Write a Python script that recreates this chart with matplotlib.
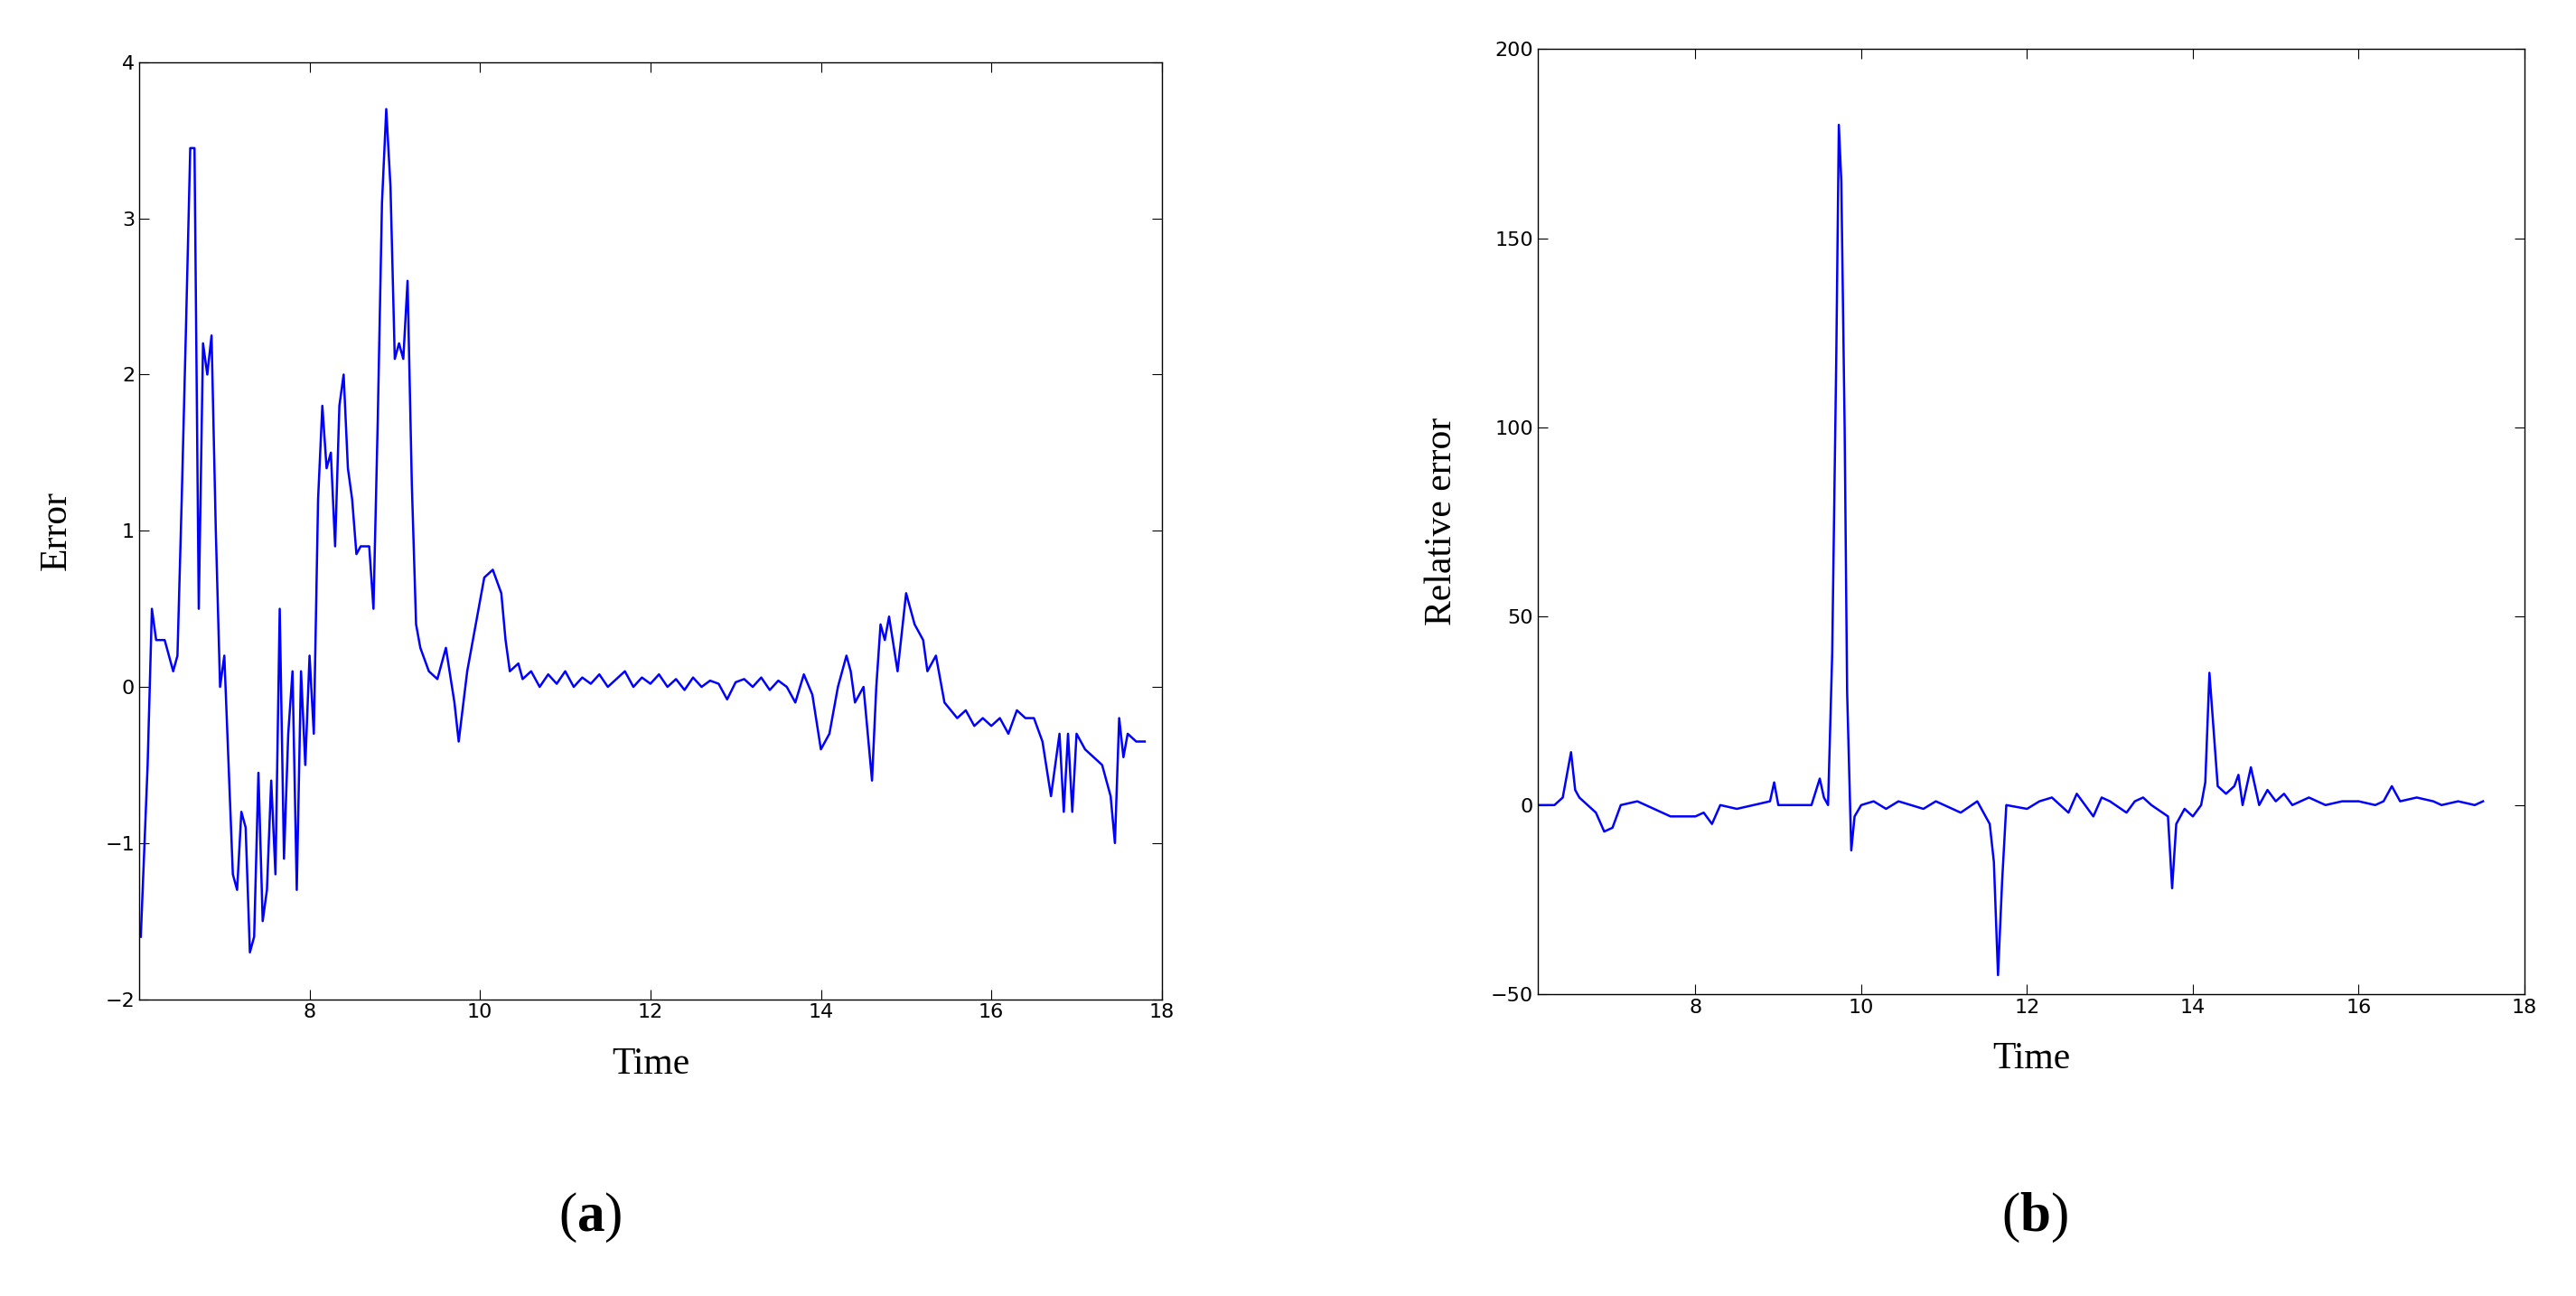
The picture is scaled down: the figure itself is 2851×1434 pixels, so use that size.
import matplotlib
matplotlib.use("Agg")
import matplotlib.pyplot as plt
import numpy as np

t_a = [6.02,6.1,6.15,6.2,6.3,6.4,6.45,6.5,6.55,6.6,6.65,6.7,6.75,6.8,6.85,6.9,6.95,7.0,7.05,7.1,7.15,7.2,7.25,7.3,7.35,7.4,7.45,7.5,7.55,7.6,7.65,7.7,7.75,7.8,7.85,7.9,7.95,8.0,8.05,8.1,8.15,8.2,8.25,8.3,8.35,8.4,8.45,8.5,8.55,8.6,8.7,8.75,8.8,8.85,8.9,8.95,9.0,9.05,9.1,9.15,9.2,9.25,9.3,9.4,9.5,9.6,9.7,9.75,9.85,9.95,10.05,10.15,10.25,10.3,10.35,10.45,10.5,
       10.6,10.7,10.8,10.9,11.0,11.1,11.2,11.3,11.4,11.5,11.6,11.7,11.8,11.9,12.0,12.1,12.2,12.3,12.4,12.5,12.6,12.7,12.8,12.9,13.0,13.1,13.2,13.3,13.4,13.5,13.6,13.7,13.8,13.9,
       14.0,14.1,14.2,14.3,14.35,14.4,14.5,14.6,14.65,14.7,14.75,14.8,14.9,15.0,15.1,15.2,15.25,15.35,15.45,15.6,15.7,15.8,15.9,16.0,16.1,16.2,16.3,16.4,16.5,16.6,16.7,16.8,16.85,16.9,16.95,17.0,17.1,17.2,17.3,17.4,17.45,17.5,17.55,17.6,17.7,17.8]
e_a = [-1.6,-0.5,0.5,0.3,0.3,0.1,0.2,1.2,2.3,3.45,3.45,0.5,2.2,2.0,2.25,1.0,0.0,0.2,-0.5,-1.2,-1.3,-0.8,-0.9,-1.7,-1.6,-0.55,-1.5,-1.3,-0.6,-1.2,0.5,-1.1,-0.3,0.1,-1.3,0.1,-0.5,0.2,-0.3,1.2,1.8,1.4,1.5,0.9,1.8,2.0,1.4,1.2,0.85,0.9,0.9,0.5,1.7,3.1,3.7,3.2,2.1,2.2,2.1,2.6,1.3,0.4,0.25,0.1,0.05,0.25,-0.1,-0.35,0.1,0.4,0.7,0.75,0.6,0.3,0.1,0.15,0.05,
       0.1,0.0,0.08,0.02,0.1,0.0,0.06,0.02,0.08,0.0,0.05,0.1,0.0,0.06,0.02,0.08,0.0,0.05,-0.02,0.06,0.0,0.04,0.02,-0.08,0.03,0.05,0.0,0.06,-0.02,0.04,0.0,-0.1,0.08,-0.05,
       -0.4,-0.3,0.0,0.2,0.1,-0.1,0.0,-0.6,0.0,0.4,0.3,0.45,0.1,0.6,0.4,0.3,0.1,0.2,-0.1,-0.2,-0.15,-0.25,-0.2,-0.25,-0.2,-0.3,-0.15,-0.2,-0.2,-0.35,-0.7,-0.3,-0.8,-0.3,-0.8,-0.3,-0.4,-0.45,-0.5,-0.7,-1.0,-0.2,-0.45,-0.3,-0.35,-0.35]

t_b = [6.1,6.3,6.4,6.5,6.55,6.6,6.8,6.9,7.0,7.1,7.3,7.5,7.7,8.0,8.1,8.2,8.3,8.5,8.7,8.9,8.95,9.0,9.2,9.4,9.5,9.55,9.6,9.65,9.7,9.73,9.76,9.8,9.83,9.88,9.92,10.0,10.15,10.3,10.45,10.6,10.75,10.9,11.0,11.2,11.4,11.5,11.55,11.6,11.65,11.7,11.75,12.0,12.15,12.3,12.5,12.6,12.8,12.9,13.0,13.2,13.3,13.4,13.5,13.7,13.75,13.8,13.9,14.0,14.1,14.15,14.2,14.25,14.3,14.4,14.5,14.55,14.6,14.7,14.75,14.8,14.9,15.0,15.1,15.2,15.3,15.4,15.5,15.6,15.8,16.0,16.2,16.3,16.4,16.5,16.7,16.9,17.0,17.2,17.4,17.5]
e_b = [0,0,2,14,4,2,-2,-7,-6,0,1,-1,-3,-3,-2,-5,0,-1,0,1,6,0,0,0,7,2,0,40,120,180,165,100,30,-12,-3,0,1,-1,1,0,-1,1,0,-2,1,-3,-5,-15,-45,-20,0,-1,1,2,-2,3,-3,2,1,-2,1,2,0,-3,-22,-5,-1,-3,0,6,35,20,5,3,5,8,0,10,5,0,4,1,3,0,1,2,1,0,1,1,0,1,5,1,2,1,0,1,0,1]

plt.rcParams['mathtext.fontset'] = 'custom'
plt.rcParams['mathtext.rm'] = 'Liberation Serif'
plt.rcParams['mathtext.bf'] = 'Liberation Serif:bold'
serif = 'Liberation Serif'

fig = plt.figure(figsize=(28.51, 14.34), dpi=100)
ax1 = fig.add_axes([0.054, 0.229, 0.397, 0.723])
ax2 = fig.add_axes([0.597, 0.233, 0.383, 0.729])

for ax, t, e, xl, yl, yt, lab in [
        (ax1, t_a, e_a, (6.0, 18), (-2, 4), [-2,-1,0,1,2,3,4], 'Error'),
        (ax2, t_b, e_b, (6.1, 18), (-50, 200), [-50,0,50,100,150,200], 'Relative error')]:
    ax.plot(t, e, color='#0000ff', lw=1.8)
    ax.set_xlim(*xl); ax.set_ylim(*yl)
    ax.set_xticks([8,10,12,14,16,18]); ax.set_yticks(yt)
    ax.tick_params(direction='in', labelsize=16, top=True, right=True, length=8)
    for s in ax.spines.values():
        s.set_linewidth(1.0)
    ax.set_xlabel('Time', fontsize=30, family=serif, labelpad=20)
    ax.set_ylabel(lab, fontsize=30, family=serif, labelpad=25)

fig.text(0.229, 0.05, r'($\mathbf{a}$)', fontsize=44, ha='center', family=serif)
fig.text(0.79, 0.05, r'($\mathbf{b}$)', fontsize=44, ha='center', family=serif)
fig.savefig('out.png', dpi=100)
